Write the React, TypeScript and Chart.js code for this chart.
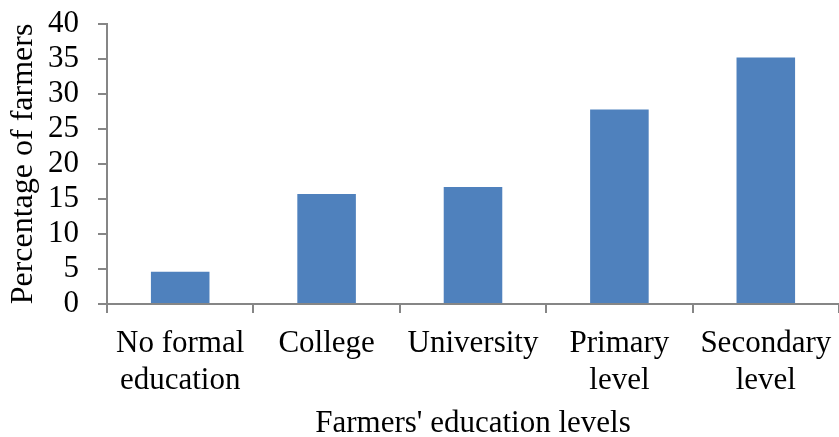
import React, { useEffect, useRef } from "react";
import { Chart, registerables } from "chart.js";

Chart.register(...registerables);

const categories: (string | string[])[] = [
  ["No formal", "education"],
  "College",
  "University",
  ["Primary", "level"],
  ["Secondary", "level"],
];
const percentages: number[] = [4.6, 15.7, 16.7, 27.8, 35.2];
const yTitle = "Percentage of farmers";
const xTitle = "Farmers' education levels";

const FONT = "'Liberation Serif', 'Times New Roman', serif";
const AXIS = "#868686";

export default function App() {
  const ref = useRef<HTMLCanvasElement>(null);
  useEffect(() => {
    if (!ref.current) return;
    const chart = new Chart(ref.current, {
      type: "bar",
      data: {
        labels: categories,
        datasets: [
          {
            data: percentages,
            backgroundColor: "#4F81BD",
            borderWidth: 0,
            barPercentage: 0.4,
            categoryPercentage: 1,
          },
        ],
      },
      options: {
        animation: false,
        responsive: false,
        layout: { padding: { top: 24, left: 0, right: 0, bottom: 0 } },
        plugins: { legend: { display: false }, tooltip: { enabled: false } },
        scales: {
          x: {
            offset: true,
            grid: {
              display: true,
              offset: true,
              drawOnChartArea: false,
              drawTicks: true,
              tickLength: 9,
              color: AXIS,
              lineWidth: 2,
            },
            border: { display: true, color: AXIS, width: 2 },
            ticks: {
              color: "#000",
              padding: 12,
              maxRotation: 0,
              autoSkip: false,
              font: { family: FONT, size: 31, lineHeight: 1.2 },
            },
            title: {
              display: true,
              text: xTitle,
              color: "#000",
              font: { family: FONT, size: 31, lineHeight: 0.84 },
              padding: { top: 0, bottom: 0 },
            },
            afterFit: (scale: any) => {
              scale.height = 133;
              scale.paddingLeft = 0;
              scale.paddingRight = 0;
            },
          },
          y: {
            min: 0,
            max: 40,
            grid: {
              display: true,
              drawOnChartArea: false,
              drawTicks: true,
              tickLength: 9,
              color: AXIS,
              lineWidth: 2,
            },
            border: { display: true, color: AXIS, width: 2 },
            ticks: {
              stepSize: 5,
              autoSkip: false,
              color: "#000",
              padding: 19,
              font: { family: FONT, size: 31, lineHeight: 1 },
            },
            title: {
              display: true,
              text: yTitle,
              color: "#000",
              font: { family: FONT, size: 32, lineHeight: 1.2 },
              padding: { top: 4, bottom: 0 },
            },
            afterFit: (scale: any) => {
              scale.width = 107;
              scale.paddingTop = 0;
              scale.paddingBottom = 0;
            },
          },
        },
      },
    });
    return () => chart.destroy();
  }, []);
  return (
    <div style={{ position: "absolute", left: 0, top: 0, width: 839, height: 437, background: "#fff" }}>
      <canvas ref={ref} width={839} height={437} />
    </div>
  );
}
